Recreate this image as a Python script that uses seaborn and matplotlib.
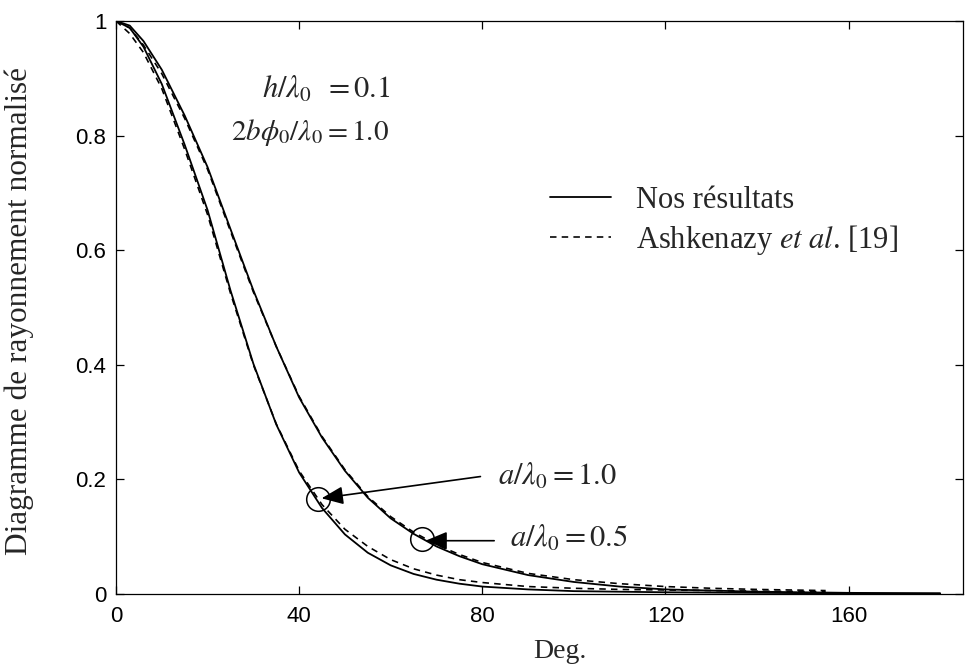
import numpy as np
import pandas as pd
import matplotlib
matplotlib.use("Agg")
import matplotlib.pyplot as plt
import seaborn as sns
from matplotlib.lines import Line2D

# ---------------- data ----------------
deg_ours = [0, 3, 6, 10, 15, 20, 25, 30, 35, 40, 45, 50, 55, 60, 65, 70, 75, 80, 90, 100, 110, 120, 140, 160, 180]
ours_a05 = [1.0, 0.992, 0.965, 0.915, 0.835, 0.745, 0.637, 0.530, 0.432, 0.343, 0.273, 0.215, 0.168, 0.132,
            0.105, 0.083, 0.066, 0.052, 0.033, 0.021, 0.013, 0.008, 0.004, 0.002, 0.001]
ours_a10 = [1.0, 0.988, 0.955, 0.890, 0.784, 0.670, 0.530, 0.402, 0.296, 0.212, 0.150, 0.104, 0.072, 0.050,
            0.035, 0.025, 0.018, 0.013, 0.008, 0.005, 0.004, 0.003, 0.002, 0.001, 0.001]

deg_ref = [0, 3, 6, 10, 15, 20, 25, 30, 35, 40, 45, 50, 55, 60, 65, 70, 75, 80, 90, 100, 110, 120, 130, 140, 155]
ref_a05 = [1.0, 0.988, 0.958, 0.908, 0.830, 0.741, 0.633, 0.527, 0.432, 0.345, 0.275, 0.217, 0.170, 0.135,
           0.108, 0.086, 0.069, 0.055, 0.036, 0.025, 0.018, 0.013, 0.010, 0.008, 0.006]
ref_a10 = [1.0, 0.978, 0.945, 0.882, 0.776, 0.662, 0.525, 0.400, 0.297, 0.215, 0.156, 0.113, 0.083, 0.060,
           0.044, 0.033, 0.025, 0.020, 0.013, 0.010, 0.008, 0.007, 0.006, 0.005, 0.004]

x_ticks = [0, 40, 80, 120, 160]
y_ticks = [0, 0.2, 0.4, 0.6, 0.8, 1.0]
y_tick_labels = ["0", "0.2", "0.4", "0.6", "0.8", "1"]

legend_labels = ["Nos résultats", r"Ashkenazy $\mathit{et\ al}$. [19]"]
x_label = "Deg."
y_label = "Diagramme de rayonnement normalisé"

# annotation anchors (deg, value)
circle_x = [44.2, 66.9]
circle_y = [0.166, 0.096]
arrow_tip = [(44.9, 0.167), (67.6, 0.093)]
arrow_tail = [(79.6, 0.205), (82.6, 0.093)]
label_a = [r"$a/\lambda_0 = 1.0$", r"$a/\lambda_0 = 0.5$"]
label_a_pos = [(83.5, 0.205), (86.1, 0.097)]

# ---------------- style ----------------
sns.set_theme(style="ticks")
plt.rcParams["font.family"] = ["Liberation Sans", "DejaVu Sans"]
plt.rcParams["mathtext.fontset"] = "stix"

fig = plt.figure(figsize=(9.68, 6.71), dpi=100)
ax = fig.add_axes([116 / 968, 1 - 594 / 671, 847 / 968, 573 / 671])

df_ours = pd.DataFrame({"deg": deg_ours, "a05": ours_a05, "a10": ours_a10})
df_ref = pd.DataFrame({"deg": deg_ref, "a05": ref_a05, "a10": ref_a10})

lw = 1.3
dash = (0, (4, 3.2))
sns.lineplot(data=df_ours, x="deg", y="a05", color="black", lw=lw, ax=ax, legend=False)
sns.lineplot(data=df_ours, x="deg", y="a10", color="black", lw=lw, ax=ax, legend=False)
sns.lineplot(data=df_ref, x="deg", y="a05", color="black", lw=lw * 0.9, linestyle=dash, ax=ax, legend=False)
sns.lineplot(data=df_ref, x="deg", y="a10", color="black", lw=lw * 0.9, linestyle=dash, ax=ax, legend=False)

ax.set_xlim(0, 185)
ax.set_ylim(0, 1)
ax.set_xticks(x_ticks)
ax.set_xticklabels([str(t) for t in x_ticks])
ax.set_yticks(y_ticks)
ax.set_yticklabels(y_tick_labels)
ax.tick_params(direction="in", length=6, width=0.9, top=True, right=True,
               labelsize=16, colors="black", pad=7)
ax.tick_params(axis="x", pad=9)
for sp in ax.spines.values():
    sp.set_visible(True)
    sp.set_linewidth(0.9)
    sp.set_color("black")

serif = ["Liberation Serif", "DejaVu Serif"]
ax.set_xlabel(x_label, fontsize=20, family=serif, va="center")
ax.xaxis.set_label_coords((560 - 116) / 847, (594 - 652) / 573)
ax.set_ylabel(y_label, fontsize=22.5, family=serif, va="center")
ax.yaxis.set_label_coords((19 - 116) / 847, (594 - 311) / 573)

# parameter text
ax.text(59.9, 0.880, r"$h/\lambda_0\;\;= 0.1$", fontsize=22, ha="right", va="center")
ax.text(59.7, 0.806, r"$2b\phi_0/\lambda_0 = 1.0$", fontsize=21, ha="right", va="center")

# circles and arrows
ax.plot(circle_x, circle_y, linestyle="none", marker="o", markersize=17, markerfacecolor="none",
        markeredgecolor="black", markeredgewidth=1.1)
for tip, tail in zip(arrow_tip, arrow_tail):
    ax.annotate("", xy=tip, xytext=tail,
                arrowprops=dict(arrowstyle="-|>,head_length=0.6,head_width=0.25", color="black", lw=1.2,
                                mutation_scale=22, shrinkA=0, shrinkB=0))
for lab, pos in zip(label_a, label_a_pos):
    ax.text(pos[0], pos[1], lab, fontsize=22, ha="left", va="center")

# legend
handles = [Line2D([], [], color="black", lw=lw),
           Line2D([], [], color="black", lw=lw * 0.9, linestyle=dash)]
leg = ax.legend(handles, legend_labels, loc="upper left",
                bbox_to_anchor=(550 / 968, 1 - 186 / 671), bbox_transform=fig.transFigure,
                frameon=False, prop={"family": serif, "size": 22},
                handlelength=2.0, handletextpad=0.8, labelspacing=0.25,
                borderpad=0, borderaxespad=0)

fig.savefig("out.png", dpi=100)
